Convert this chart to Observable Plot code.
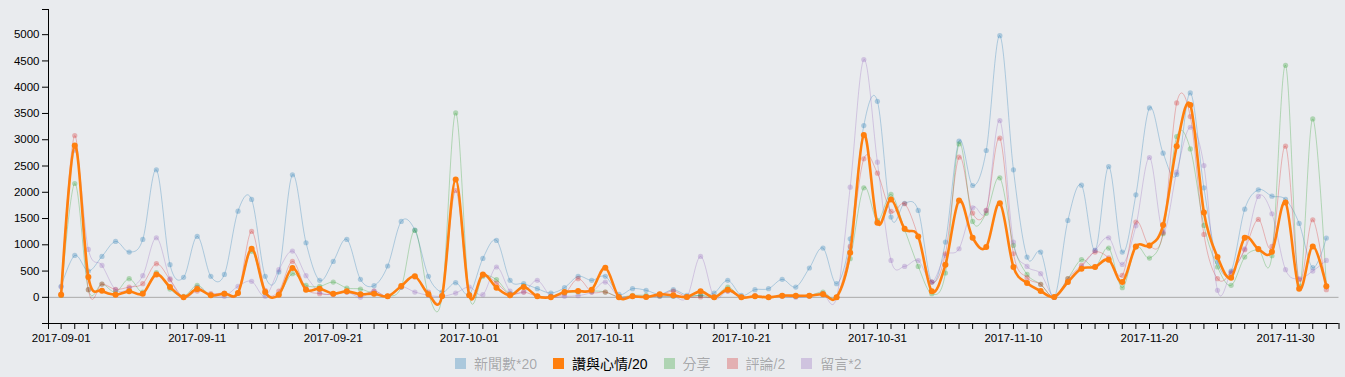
<!DOCTYPE html>
<html>
<head>
<meta charset="utf-8">
<script src="https://cdn.jsdelivr.net/npm/d3@7"></script>
<script src="https://cdn.jsdelivr.net/npm/@observablehq/plot@0.6"></script>
<style>
  html, body { margin: 0; padding: 0; background: #e9ebee; }
  #wrap { position: relative; width: 1345px; height: 377px; overflow: hidden; }
  #legend { position: absolute; left: 455px; top: 354px; height: 18px; display: flex; align-items: center;
    font-family: "Liberation Sans", "Noto Sans CJK TC", Arial, sans-serif; font-size: 14px; white-space: nowrap; }
  .item { display: flex; align-items: center; margin-right: 16px; }
  .sw { width: 11px; height: 11px; margin-right: 8px; }
  .item.off { color: rgba(0,0,0,0.3); }
  .item.off .sw { opacity: 0.3; }
</style>
</head>
<body>
<div id="wrap"><div id="chart"></div><div id="legend"></div></div>
<script>
// ---- data (2017-09-01 .. 2017-12-03, one value per day) ----
const startDate = "2017-09-01";
const seriesNames = ["新聞數*20", "讚與心情/20", "分享", "評論/2", "留言*2"];
const seriesColors = ["#1f77b4", "#ff7f0e", "#2ca02c", "#d62728", "#9467bd"];
const focused = "讚與心情/20";

const news20 = [209,798,500,779,1065,862,1103,2427,621,380,1160,399,437,1641,1863,399,482,2332,1039,323,
  684,1103,342,222,596,1445,1280,399,101,279,57,741,1084,323,260,165,82,184,399,323,
  399,57,165,133,57,146,38,40,82,323,38,146,165,342,196,558,938,260,1115,3270,
  3732,1527,1790,1654,291,1052,2972,2129,2795,4981,2427,767,862,0,1464,2135,893,2490,862,1952,
  3606,2744,2338,3891,2085,672,500,1679,2047,1926,1863,1407,564,1128];
const likes20 = [51,2890,387,127,51,114,70,437,196,0,158,38,70,82,925,101,51,558,146,165,
  70,114,57,70,19,215,399,57,25,2243,38,437,184,38,196,19,0,101,120,146,
  564,0,19,6,57,38,6,114,0,146,0,19,0,32,32,32,57,0,849,3092,
  1419,1863,1305,1160,114,621,1844,1134,957,1793,577,272,120,6,291,545,577,716,291,970,
  989,1375,2877,3663,1616,767,374,1134,919,868,1806,165,970,209];
const shares = [40,2167,146,253,100,355,101,469,158,19,228,38,70,82,875,82,57,450,228,209,
  291,177,158,70,19,196,1274,57,19,3511,38,399,336,70,215,19,19,82,101,120,
  101,6,38,38,19,19,6,38,0,196,0,19,6,32,19,32,101,0,735,2085,
  1464,1958,1290,589,70,463,2921,1445,1600,2275,989,437,247,6,355,716,577,938,184,957,
  748,1210,3061,2826,1369,577,228,767,906,792,4417,215,3397,215];
const comments2 = [60,3080,146,253,152,196,260,640,336,0,120,70,82,82,1255,133,120,684,165,70,
  57,101,38,120,19,196,387,101,19,2034,38,418,272,57,101,19,19,70,355,101,
  101,6,19,6,38,120,6,6,0,120,0,32,6,32,19,32,70,0,970,2636,
  2364,1635,1781,1160,291,830,2668,1603,1654,3029,830,374,247,0,355,608,862,750,418,1432,
  976,1229,3701,3441,1198,355,463,906,1483,970,2877,336,1477,146];
const messages2 = [200,2800,912,608,146,165,412,1134,355,6,196,38,19,209,304,19,526,881,412,101,
  57,101,0,120,19,196,101,38,19,82,196,51,577,120,101,323,19,19,32,101,
  291,6,19,19,19,19,0,779,0,120,0,19,6,19,0,19,57,0,2097,4525,
  2573,703,589,700,291,798,925,1705,1654,3365,1052,589,450,0,300,577,893,1134,627,1362,
  2662,1250,2383,3238,2509,133,482,925,1920,1591,526,355,500,703];
const seriesValues = [news20, likes20, shares, comments2, messages2];
const xTickLabels = ["2017-09-01","2017-09-11","2017-09-21","2017-10-01","2017-10-11","2017-10-21","2017-10-31","2017-11-10","2017-11-20","2017-11-30"];
const yTickValues = [0,500,1000,1500,2000,2500,3000,3500,4000,4500,5000];

// ---- build table ----
const t0 = d3.isoParse(startDate + "T00:00:00Z");
const nDays = news20.length;
const dates = d3.range(nDays).map(i => d3.utcDay.offset(t0, i));
const rows = [];
seriesNames.forEach((name, s) => seriesValues[s].forEach((v, i) => rows.push({date: dates[i], value: v, series: name})));

const yMax = d3.max(rows, d => d.value), yMin = Math.min(0, d3.min(rows, d => d.value));
const yPad = (yMax - yMin) * 0.1;
const yDomain = [yMin - yPad, yMax + yPad];
const spanMs = dates[nDays - 1] - dates[0];
const xDomain = [new Date(+dates[0] - spanMs * 0.01), new Date(+dates[nDays - 1] + spanMs * 0.01)];
const labelSet = new Set(xTickLabels);
const fmt = d3.utcFormat("%Y-%m-%d");

const marks = [Plot.ruleY([0], {stroke: "#aaa", strokeWidth: 1})];
const order = seriesNames.filter(n => n !== focused).concat([focused]);
for (const name of order) {
  const s = seriesNames.indexOf(name);
  const data = rows.filter(r => r.series === name);
  const on = name === focused;
  marks.push(Plot.line(data, {x: "date", y: "value", curve: "cardinal", tension: 0, stroke: seriesColors[s],
    strokeWidth: on ? 2.6 : 1, strokeOpacity: on ? 1 : 0.3}));
  marks.push(Plot.dot(data, {x: "date", y: "value", r: on ? 3 : 2.6, fill: seriesColors[s], fillOpacity: on ? 1 : 0.3, stroke: "none"}));
}
marks.push(
  Plot.axisY({ticks: [yDomain[0], ...yTickValues, yDomain[1]], tickSize: 6, tickPadding: 3, label: null,
    tickFormat: d => yTickValues.includes(d) ? String(d) : "", stroke: "#000", strokeOpacity: 1}),
  Plot.axisX({ticks: [xDomain[0], ...dates, xDomain[1]], tickSize: 6, tickPadding: 4, label: null,
    tickFormat: d => labelSet.has(fmt(d)) ? fmt(d) : "", stroke: "#000", strokeOpacity: 1}),
  Plot.ruleX([xDomain[0]], {stroke: "#000"}),
  Plot.ruleY([yDomain[0]], {stroke: "#000"})
);

const chart = Plot.plot({
  width: 1345, height: 350,
  marginLeft: 48, marginRight: 6.5, marginTop: 9, marginBottom: 27,
  style: {background: "transparent", fontFamily: "'Liberation Sans', Arial, sans-serif", fontSize: "11.5px", color: "#000"},
  x: {type: "utc", domain: xDomain, label: null},
  y: {domain: yDomain, label: null},
  marks
});
document.getElementById("chart").appendChild(chart);

// ---- legend ----
const lg = document.getElementById("legend");
seriesNames.forEach((name, s) => {
  const it = document.createElement("div");
  it.className = "item" + (name === focused ? "" : " off");
  const sw = document.createElement("span");
  sw.className = "sw"; sw.style.background = seriesColors[s];
  const tx = document.createElement("span");
  tx.textContent = name;
  it.append(sw, tx);
  lg.appendChild(it);
});
</script>
</body>
</html>
